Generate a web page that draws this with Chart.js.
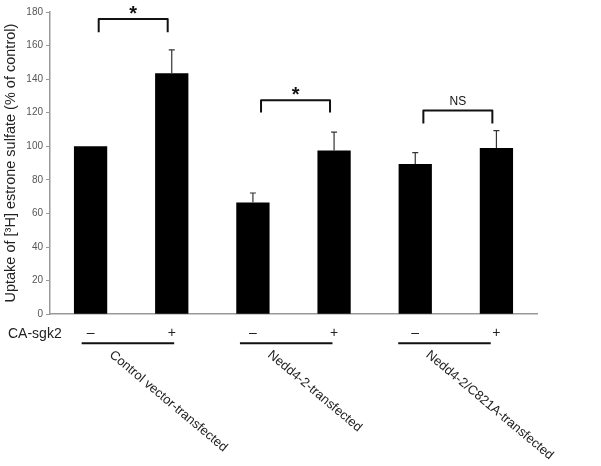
<!DOCTYPE html>
<html>
<head>
<meta charset="utf-8">
<script src="https://cdn.jsdelivr.net/npm/chart.js@4/dist/chart.umd.min.js"></script>
<style>
  html, body { margin: 0; padding: 0; background: #fff; }
  #wrap { width: 601px; height: 466px; }
</style>
</head>
<body>
<div id="wrap"><canvas id="chart" width="601" height="466"></canvas></div>
<script>
// --- data ------------------------------------------------------------------
const signs = ["\u2013", "+", "\u2013", "+", "\u2013", "+"];
const uptake = [100, 143.5, 66.5, 97.5, 89.5, 99];
const sem = [0, 14, 5.7, 11, 6.7, 10.3];
const groups = ["Control vector-transfected", "Nedd4-2-transfected", "Nedd4-2/C821A-transfected"];
const groupBars = [[0, 1], [2, 3], [4, 5]];
// significance brackets: [from bar, to bar], bracket top value, leg bottom value, label
const sigPairs = [[0, 1], [2, 3], [4, 5]];
const sigTop = [175.8, 127.4, 121.4];
const sigBottom = [168, 120.2, 113.6];
const sigText = ["*", "*", "NS"];
const yTicks = [0, 20, 40, 60, 80, 100, 120, 140, 160, 180];

const FONT = "Arial, 'Liberation Sans', sans-serif";

// upper error bars
const errorBars = {
  id: "errorBars",
  afterDatasetsDraw(chart) {
    const { ctx, scales: { x, y } } = chart;
    ctx.save();
    ctx.strokeStyle = "#333";
    ctx.lineWidth = 1.2;
    uptake.forEach((v, i) => {
      if (!sem[i]) return;
      const px = x.getPixelForValue(i);
      const top = y.getPixelForValue(v + sem[i]);
      ctx.beginPath();
      ctx.moveTo(px, y.getPixelForValue(v));
      ctx.lineTo(px, top);
      ctx.moveTo(px - 3, top);
      ctx.lineTo(px + 3, top);
      ctx.stroke();
    });
    ctx.restore();
  },
};

// brackets, group underlines, rotated group names, CA-sgk2 label
const annotations = {
  id: "annotations",
  afterDraw(chart) {
    const { ctx, scales: { x, y }, chartArea } = chart;
    const w = x.getPixelForValue(1) - x.getPixelForValue(0);
    ctx.save();
    ctx.strokeStyle = "#111";
    ctx.fillStyle = "#111";
    ctx.lineWidth = 2;
    ctx.lineJoin = "round";
    sigPairs.forEach(([a, b], k) => {
      const x0 = x.getPixelForValue(a) + 0.1 * w;
      const x1 = x.getPixelForValue(b) - 0.05 * w;
      const yt = y.getPixelForValue(sigTop[k]);
      const yb = y.getPixelForValue(sigBottom[k]);
      ctx.beginPath();
      ctx.moveTo(x0, yb);
      ctx.lineTo(x0, yt);
      ctx.lineTo(x1, yt);
      ctx.lineTo(x1, yb);
      ctx.stroke();
      ctx.textAlign = "center";
      ctx.textBaseline = "alphabetic";
      if (sigText[k] === "*") {
        ctx.font = "bold 20px " + FONT;
        ctx.fillText("*", (x0 + x1) / 2, yt + 1);
      } else {
        ctx.font = "12px " + FONT;
        ctx.fillText(sigText[k], (x0 + x1) / 2, yt - 5);
      }
    });

    // group underline + rotated group name
    const lineY = chartArea.bottom + 29;
    groupBars.forEach(([a, b], k) => {
      const xa = x.getPixelForValue(a);
      const xb = x.getPixelForValue(b);
      const shift = -0.05 * w * k;
      ctx.lineWidth = 2;
      ctx.beginPath();
      ctx.moveTo(xa - 0.11 * w + shift, lineY);
      ctx.lineTo(xb + 0.03 * w + shift, lineY);
      ctx.stroke();

      ctx.save();
      ctx.translate((xa + xb) / 2 - 16 + shift, lineY + 5);
      ctx.rotate(40 * Math.PI / 180);
      ctx.font = "13px " + FONT;
      ctx.fillStyle = "#222";
      ctx.textAlign = "left";
      ctx.textBaseline = "top";
      ctx.fillText(groups[k], 0, 0);
      ctx.restore();
    });

    ctx.font = "14px " + FONT;
    ctx.fillStyle = "#222";
    ctx.textAlign = "left";
    ctx.textBaseline = "middle";
    ctx.fillText("CA-sgk2", 8, chartArea.bottom + 20);
    ctx.restore();
  },
};

new Chart(document.getElementById("chart"), {
  type: "bar",
  data: {
    labels: signs,
    datasets: [{
      data: uptake,
      backgroundColor: "#000",
      borderWidth: 0,
      categoryPercentage: 1,
      barPercentage: 0.41,
    }],
  },
  options: {
    responsive: false,
    animation: false,
    layout: { padding: { top: 12, right: 64, bottom: 121, left: 0 } },
    plugins: { legend: { display: false }, tooltip: { enabled: false } },
    scales: {
      x: {
        grid: { display: false },
        border: { color: "#999", width: 1.5 },
        ticks: { color: "#222", font: { size: 14, family: FONT }, padding: 3, maxRotation: 0 },
      },
      y: {
        min: 0,
        max: 180,
        afterFit(scale) { scale.width = 50; },
        afterBuildTicks(scale) { scale.ticks = yTicks.map(v => ({ value: v })); },
        grid: { drawOnChartArea: false, tickLength: 4, color: "#999" },
        border: { color: "#999", width: 1.5 },
        ticks: { color: "#555", font: { size: 10, family: FONT }, padding: 3 },
        title: {
          display: true,
          text: "Uptake of [\u00B3H] estrone sulfate (% of control)",
          color: "#222",
          font: { size: 14.5, family: FONT },
          padding: { top: 2, bottom: 0 },
        },
      },
    },
  },
  plugins: [errorBars, annotations],
});
</script>
</body>
</html>
